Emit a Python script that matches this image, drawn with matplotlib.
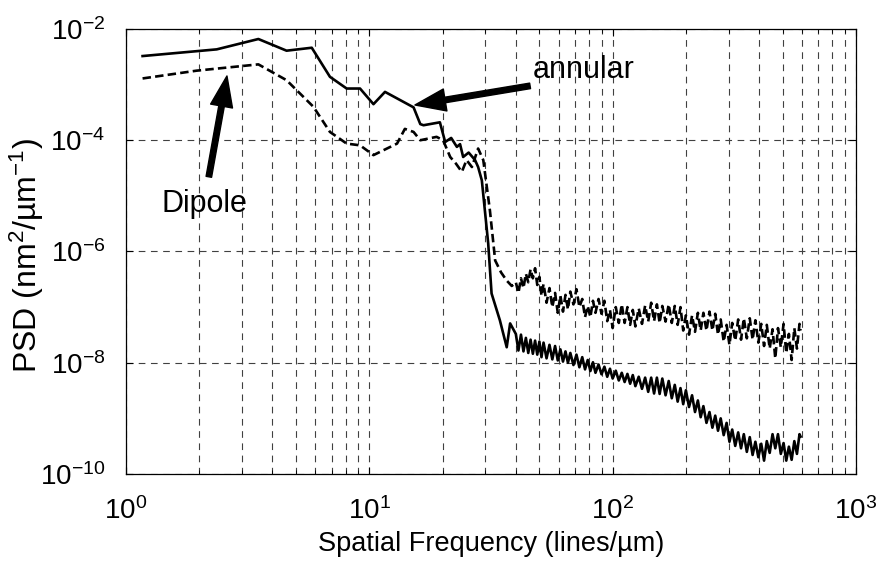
import numpy as np
import matplotlib
matplotlib.use("Agg")
import matplotlib.pyplot as plt
from matplotlib.ticker import LogLocator, NullLocator, NullFormatter

plt.rcParams["font.family"] = ["Liberation Sans", "DejaVu Sans"]
plt.rcParams["mathtext.fontset"] = "custom"
plt.rcParams["mathtext.rm"] = "Liberation Sans"
plt.rcParams["mathtext.default"] = "regular"

# annular illumination (solid), low-frequency part read point by point
freq_lo_annular = [1.17, 2.36, 3.5, 4.57, 5.8, 6.89, 8.07, 9.16, 10.4, 11.6, 15.2, 16.2,
                   16.7, 19.5, 20.5, 21.7, 22.9, 23.6, 24.3, 25.6, 27.2, 28.0, 29.0,
                   30.8, 31.8, 34.4, 36.7, 37.9]
psd_lo_annular = [3.26e-3, 4.3e-3, 6.6e-3, 4.07e-3, 4.6e-3, 1.38e-3, 8.5e-4, 8.5e-4,
                  4.45e-4, 7.4e-4, 3.9e-4, 1.95e-4, 1.86e-4, 2.1e-4, 9.3e-5, 1.1e-4,
                  7.6e-5, 8.5e-5, 5e-5, 6e-5, 4.4e-5, 3.3e-5, 1.9e-5, 1.4e-6, 1.76e-7,
                  5.8e-8, 1.9e-8, 5.1e-8]

# dipole illumination (dashed), low-frequency part
freq_lo_dipole = [1.17, 1.95, 3.5, 4.57, 5.89, 6.89, 8.07, 9.16, 10.4, 13.0, 14.0, 15.2,
                  16.2, 18.9, 20.1, 21.5, 22.7, 24.0, 25.1, 26.4, 28.0, 29.4, 31.3, 32.9,
                  34.8, 36.7, 38.5]
psd_lo_dipole = [1.29e-3, 1.78e-3, 2.31e-3, 1.2e-3, 4e-4, 1.41e-4, 8.7e-5, 8.1e-5,
                 5.4e-5, 8.7e-5, 1.6e-4, 1.41e-4, 1.0e-4, 1.15e-4, 1.0e-4, 5e-5, 3.8e-5,
                 2.7e-5, 4.4e-5, 3.3e-5, 7.1e-5, 4.4e-5, 5.5e-6, 6.9e-7, 4.2e-7, 3e-7,
                 2.4e-7]

# noisy high-frequency tail (both curves read on the same frequencies)
freq_hi = [40, 41, 42, 43, 44, 45, 46, 47, 48, 49, 50, 51, 52, 53.5, 55, 56.5, 58, 59.5,
           61, 62.5, 64, 65.5, 67, 69, 71, 73, 75, 77, 79, 81, 83, 85, 87.5, 90, 92.5,
           95, 97.5, 100, 103, 106, 109, 112, 115, 118, 121, 124, 128, 132, 136, 140,
           144, 148, 152, 156, 160, 165, 170, 175, 180, 185, 190, 195, 200, 206, 212,
           218, 224, 230, 236, 243, 250, 257, 264, 271, 278, 286, 294, 302, 310, 319,
           328, 337, 346, 356, 366, 376, 386, 397, 408, 419, 430, 442, 454, 466, 478,
           491, 504, 517, 530, 544, 558, 572, 586, 592]
psd_hi_annular = [3.3e-8, 1.66e-8, 3.2e-8, 1.6e-8, 2.8e-8, 1.5e-8, 2.6e-8, 1.45e-8, 2.5e-8, 1.4e-8,
                  2.4e-8, 1.26e-8, 2.3e-8, 1.2e-8, 2.1e-8, 1.15e-8, 2.0e-8, 1.1e-8, 1.74e-8, 1.05e-8,
                  1.6e-8, 1.0e-8, 1.5e-8, 9.1e-9, 1.4e-8, 8.3e-9, 1.26e-8, 7.6e-9, 1.12e-8, 7.1e-9,
                  1.02e-8, 6.6e-9, 9.3e-9, 6.2e-9, 8.5e-9, 5.6e-9, 7.8e-9, 5.2e-9, 7.2e-9, 4.8e-9,
                  6.6e-9, 4.5e-9, 6.3e-9, 4.2e-9, 6.0e-9, 3.8e-9, 5.6e-9, 3.4e-9, 5.4e-9, 3.0e-9,
                  5.4e-9, 2.8e-9, 5.4e-9, 2.75e-9, 5.2e-9, 2.6e-9, 4.7e-9, 2.3e-9, 4.0e-9, 2.0e-9,
                  3.5e-9, 1.8e-9, 3.2e-9, 1.6e-9, 2.6e-9, 1.3e-9, 2.1e-9, 1.05e-9, 1.66e-9, 8.3e-10,
                  1.3e-9, 6.8e-10, 1.12e-9, 6.0e-10, 1.0e-9, 5.0e-10, 8.3e-10, 3.8e-10, 6.3e-10, 3.2e-10,
                  5.6e-10, 2.9e-10, 5.2e-10, 2.5e-10, 4.6e-10, 2.2e-10, 3.8e-10, 2.0e-10, 3.5e-10, 1.74e-10,
                  3.9e-10, 2.4e-10, 5.2e-10, 2.9e-10, 5.2e-10, 2.3e-10, 3.6e-10, 1.74e-10, 3.1e-10, 1.8e-10,
                  3.9e-10, 2.3e-10, 5.2e-10, 4.7e-10]
psd_hi_dipole = [2.8e-7, 1.8e-7, 3.3e-7, 2.2e-7, 4.0e-7, 2.8e-7, 4.8e-7, 3.3e-7, 5.0e-7, 2.5e-7,
                 3.5e-7, 1.6e-7, 2.6e-7, 1.2e-7, 2.2e-7, 1.0e-7, 1.8e-7, 7.9e-8, 1.6e-7, 8.3e-8,
                 1.66e-7, 9.1e-8, 1.9e-7, 1.12e-7, 2.1e-7, 1.0e-7, 1.4e-7, 6.6e-8, 1.05e-7, 6.6e-8,
                 1.3e-7, 7.9e-8, 1.4e-7, 7.6e-8, 1.3e-7, 5.6e-8, 8.9e-8, 4.2e-8, 1.0e-7, 5.2e-8,
                 1.12e-7, 5.2e-8, 1.0e-7, 4.8e-8, 8.9e-8, 4.5e-8, 9.5e-8, 5.0e-8, 1.07e-7, 5.5e-8,
                 1.2e-7, 5.6e-8, 1.12e-7, 5.2e-8, 1.05e-7, 5.5e-8, 1.12e-7, 5.2e-8, 1.05e-7, 4.8e-8,
                 1.0e-7, 3.8e-8, 7.1e-8, 3.2e-8, 7.1e-8, 3.6e-8, 7.9e-8, 3.8e-8, 7.9e-8, 3.8e-8,
                 8.3e-8, 3.8e-8, 7.6e-8, 3.2e-8, 6.0e-8, 2.4e-8, 4.8e-8, 2.1e-8, 5.2e-8, 2.5e-8,
                 6.0e-8, 2.6e-8, 6.3e-8, 2.75e-8, 6.3e-8, 2.6e-8, 5.8e-8, 2.3e-8, 5.0e-8, 2.0e-8,
                 4.8e-8, 1.8e-8, 4.0e-8, 1.2e-8, 4.2e-8, 1.9e-8, 5.0e-8, 1.5e-8, 3.3e-8, 1.12e-8,
                 4.2e-8, 1.8e-8, 5.0e-8, 3.8e-8]

freq_annular = np.concatenate([freq_lo_annular, freq_hi])
psd_annular = np.concatenate([psd_lo_annular, psd_hi_annular])
freq_dipole = np.concatenate([freq_lo_dipole, freq_hi])
psd_dipole = np.concatenate([psd_lo_dipole, psd_hi_dipole])

fig = plt.figure(figsize=(8.81, 5.67), dpi=100)
ax = fig.add_axes([0.143, 0.164, 0.8286, 0.7849])

ax.loglog(freq_annular, psd_annular, color="k", lw=1.9)
ax.loglog(freq_dipole, psd_dipole, color="k", lw=1.9, ls=(0, (3.2, 1.6)))

ax.set_xlim(1, 1000)
ax.set_ylim(1e-10, 1e-2)
ax.set_yticks([1e-10, 1e-8, 1e-6, 1e-4, 1e-2])
ax.yaxis.set_minor_locator(NullLocator())
ax.xaxis.set_minor_locator(LogLocator(base=10, subs=range(2, 10)))
ax.xaxis.set_minor_formatter(NullFormatter())

grid_kw = dict(color="0.25", lw=0.8, ls=(0, (6, 5)))
ax.grid(True, which="both", axis="x", **grid_kw)
ax.grid(True, which="major", axis="y", **grid_kw)

ax.tick_params(which="both", direction="in", top=True, right=True, labelsize=20)
ax.tick_params(which="major", length=5)
ax.tick_params(which="minor", length=3)
ax.tick_params(axis="x", pad=17)
ax.tick_params(axis="y", pad=15)
for s in ax.spines.values():
    s.set_linewidth(0.9)

ax.set_xlabel("Spatial Frequency (lines/µm)", fontsize=19.5)
ax.xaxis.set_label_coords(0.5, -0.127)
ax.set_ylabel("PSD (nm$^{2}$/µm$^{-1}$)", fontsize=23)
ax.yaxis.set_label_coords(-0.11, 0.49)

arrow_kw = dict(facecolor="k", edgecolor="k", width=4, headwidth=16, headlength=22, shrink=0)
ax.annotate("annular", xy=(15.4, 4.3e-4), xytext=(47, 1.8e-3), fontsize=22,
            va="center", ha="left", arrowprops=arrow_kw)
ax.annotate("", xy=(2.6, 1.43e-3), xytext=(2.19, 2.2e-5), arrowprops=arrow_kw)
ax.text(2.1, 7.0e-6, "Dipole", fontsize=22, ha="center", va="center")

fig.savefig("out.png", dpi=100)
